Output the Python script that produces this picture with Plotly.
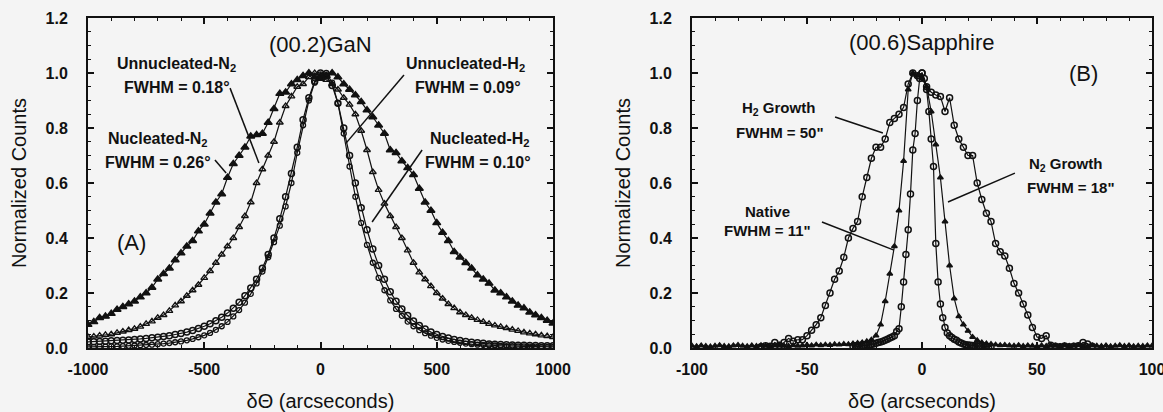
import plotly.graph_objects as go

# ---------------- Panel A: (00.2) GaN rocking curves ----------------
theta_a = list(range(-1000, 1001, 25))

nucleated_n2 = [0.085, 0.095, 0.11, 0.115, 0.125, 0.14, 0.15, 0.16, 0.17, 0.185,
                0.2, 0.22, 0.25, 0.27, 0.29, 0.32, 0.345, 0.37, 0.39, 0.425,
                0.45, 0.49, 0.53, 0.56, 0.62, 0.67, 0.7, 0.73, 0.77, 0.775,
                0.78, 0.82, 0.87, 0.925, 0.93, 0.96, 0.975, 0.99, 1.0, 0.985,
                0.98, 0.99, 1.0, 0.985, 0.96, 0.94, 0.92, 0.895, 0.865, 0.84,
                0.81, 0.78, 0.72, 0.71, 0.68, 0.655, 0.63, 0.58, 0.53, 0.5,
                0.455, 0.42, 0.39, 0.35, 0.33, 0.31, 0.29, 0.265, 0.25, 0.235,
                0.21, 0.2, 0.185, 0.17, 0.155, 0.145, 0.13, 0.12, 0.11, 0.1, 0.09]

unnucleated_n2 = [0.04, 0.042, 0.045, 0.048, 0.05, 0.055, 0.06, 0.065, 0.07, 0.078,
                  0.088, 0.097, 0.11, 0.12, 0.135, 0.155, 0.17, 0.19, 0.21, 0.23,
                  0.255, 0.28, 0.31, 0.34, 0.37, 0.4, 0.44, 0.48, 0.53, 0.6,
                  0.65, 0.7, 0.75, 0.82, 0.88, 0.915, 0.95, 0.96, 0.985, 1.0,
                  0.99, 0.975, 0.96, 0.94, 0.91, 0.885, 0.85, 0.79, 0.72, 0.64,
                  0.575, 0.525, 0.48, 0.44, 0.4, 0.355, 0.31, 0.275, 0.25, 0.225,
                  0.2, 0.18, 0.16, 0.145, 0.13, 0.12, 0.11, 0.102, 0.095, 0.088,
                  0.082, 0.077, 0.072, 0.067, 0.062, 0.057, 0.053, 0.05, 0.046, 0.043, 0.04]

unnucleated_h2 = [0.004, 0.004, 0.005, 0.005, 0.006, 0.006, 0.007, 0.008, 0.009, 0.01,
                  0.011, 0.012, 0.014, 0.016, 0.018, 0.021, 0.024, 0.028, 0.033, 0.039,
                  0.046, 0.055, 0.066, 0.079, 0.095, 0.115, 0.138, 0.165, 0.197, 0.235,
                  0.278, 0.33, 0.385, 0.445, 0.515, 0.6, 0.71, 0.81, 0.9, 0.965,
                  0.995, 1.0, 0.965, 0.89, 0.78, 0.66, 0.55, 0.455, 0.375, 0.31,
                  0.255, 0.21, 0.173, 0.142, 0.117, 0.096, 0.079, 0.065, 0.054, 0.045,
                  0.037, 0.031, 0.026, 0.022, 0.019, 0.016, 0.014, 0.012, 0.011, 0.01,
                  0.009, 0.008, 0.007, 0.007, 0.006, 0.006, 0.005, 0.005, 0.004, 0.004, 0.004]

nucleated_h2 = [0.022, 0.023, 0.024, 0.025, 0.026, 0.027, 0.028, 0.029, 0.031, 0.033,
                0.035, 0.037, 0.039, 0.042, 0.045, 0.049, 0.053, 0.058, 0.064, 0.071,
                0.079, 0.088, 0.099, 0.112, 0.127, 0.145, 0.166, 0.19, 0.218, 0.25,
                0.29, 0.34, 0.4, 0.47, 0.55, 0.635, 0.73, 0.83, 0.91, 0.97,
                1.0, 0.99, 0.955, 0.89, 0.8, 0.7, 0.6, 0.51, 0.43, 0.36,
                0.3, 0.25, 0.205, 0.17, 0.142, 0.118, 0.098, 0.082, 0.069, 0.058,
                0.049, 0.042, 0.036, 0.031, 0.027, 0.024, 0.021, 0.019, 0.017, 0.015,
                0.014, 0.013, 0.012, 0.011, 0.01, 0.01, 0.009, 0.009, 0.008, 0.008, 0.008]

# ---------------- Panel B: (00.6) Sapphire rocking curves ----------------
theta_h2_growth = list(range(-70, 77, 2))
h2_growth = [0.005, 0.008, 0.006, 0.02, 0.01, 0.02, 0.035, 0.025, 0.03, 0.03,
             0.045, 0.065, 0.085, 0.11, 0.155, 0.2, 0.25, 0.28, 0.33, 0.4,
             0.435, 0.46, 0.55, 0.62, 0.69, 0.73, 0.73, 0.76, 0.82, 0.835,
             0.85, 0.875, 0.96, 1.0, 0.99, 1.0, 0.95, 0.93, 0.92, 0.915,
             0.86, 0.91, 0.81, 0.76, 0.73, 0.7, 0.7, 0.6, 0.54, 0.49,
             0.46, 0.38, 0.35, 0.335, 0.29, 0.235, 0.2, 0.16, 0.12, 0.075,
             0.04, 0.035, 0.045, 0.01, 0.006, 0.005, 0.007, 0.005, 0.006, 0.008,
             0.02, 0.015, 0.006]

theta_n2_growth = list(range(-100, 101, 2))
n2_growth = [0.008, 0.006, 0.009, 0.007, 0.005, 0.008, 0.01, 0.007, 0.006, 0.009,
             0.011, 0.008, 0.006, 0.009, 0.007, 0.01, 0.008, 0.006, 0.009, 0.011,
             0.008, 0.007, 0.01, 0.008, 0.009, 0.011, 0.009, 0.012, 0.01, 0.012,
             0.011, 0.013, 0.012, 0.014, 0.013, 0.016, 0.018, 0.02, 0.024, 0.03,
             0.045, 0.085, 0.17, 0.27, 0.37, 0.5, 0.68, 0.94, 1.0, 0.99,
             0.98, 0.95, 0.86, 0.74, 0.62, 0.46, 0.3, 0.18, 0.115, 0.085,
             0.062, 0.04, 0.028, 0.02, 0.016, 0.014, 0.012, 0.01, 0.011, 0.009,
             0.008, 0.01, 0.007, 0.009, 0.008, 0.006, 0.009, 0.007, 0.01, 0.008,
             0.006, 0.009, 0.007, 0.008, 0.01, 0.007, 0.006, 0.009, 0.008, 0.007,
             0.009, 0.006, 0.008, 0.01, 0.007, 0.009, 0.006, 0.008, 0.007, 0.009, 0.008]

theta_native = list(range(-30, 31, 1))
native = [0.006, 0.008, 0.007, 0.009, 0.008, 0.01, 0.011, 0.012, 0.013, 0.015,
          0.017, 0.02, 0.022, 0.025, 0.028, 0.032, 0.036, 0.04, 0.045, 0.06,
          0.07, 0.15, 0.24, 0.34, 0.43, 0.56, 0.72, 0.78, 0.9, 0.98,
          1.0, 0.98, 0.94, 0.86, 0.76, 0.66, 0.38, 0.24, 0.16, 0.11,
          0.075, 0.055, 0.045, 0.038, 0.032, 0.028, 0.022, 0.018, 0.015, 0.012,
          0.011, 0.01, 0.009, 0.008, 0.008, 0.007, 0.007, 0.006, 0.006, 0.005, 0.005]

# tick labels
a_xticks = [-1000, -500, 0, 500, 1000]
a_xticklabels = ["-1000", "-500", "0", "500", "1000"]
b_xticks = [-100, -50, 0, 50, 100]
b_xticklabels = ["-100", "-50", "0", "50", "100"]
yticks = [0.0, 0.2, 0.4, 0.6, 0.8, 1.0, 1.2]
yticklabels = ["0.0", "0.2", "0.4", "0.6", "0.8", "1.0", "1.2"]

# ---------------- figure ----------------
BG = "#f4f4f4"
FONT = "Liberation Sans, Arial, Helvetica, sans-serif"
INK = "#111111"

fig = go.Figure()

def add(x, y, symbol, size, xa, ya, name, lw=1.3):
    fig.add_trace(go.Scatter(
        x=x, y=y, mode="lines+markers", name=name, xaxis=xa, yaxis=ya,
        line=dict(color=INK, width=1.2),
        marker=dict(symbol=symbol, size=size, color=INK, line=dict(color=INK, width=lw)),
        showlegend=False, cliponaxis=True))

add(theta_a, nucleated_n2, "triangle-up", 7, "x", "y", "Nucleated-N2")
add(theta_a, unnucleated_n2, "triangle-up-open", 6, "x", "y", "Unnucleated-N2")
add(theta_a, nucleated_h2, "circle-open", 6, "x", "y", "Nucleated-H2", 1.5)
add(theta_a, unnucleated_h2, "circle-open", 5, "x", "y", "Unnucleated-H2", 1.3)

add(theta_n2_growth, n2_growth, "triangle-up", 5, "x2", "y2", "N2 Growth")
add(theta_h2_growth, h2_growth, "circle-open", 6, "x2", "y2", "H2 Growth", 1.5)
add(theta_native, native, "circle-open", 6, "x2", "y2", "Native", 1.5)

TICKFONT = dict(family=FONT, size=16, color=INK, weight="bold")
TITLEFONT = dict(family=FONT, size=20, color=INK)

axis_common = dict(
    showline=True, linecolor=INK, linewidth=2, mirror="ticks",
    ticks="inside", ticklen=6, tickwidth=1.5, tickcolor=INK,
    showgrid=False, zeroline=False, automargin=False,
    tickfont=TICKFONT,
    title_font=TITLEFONT,
)

fig.update_layout(
    width=1163, height=412,
    margin=dict(l=88, r=11, t=18, b=64),
    paper_bgcolor=BG, plot_bgcolor=BG,
    font=dict(family=FONT, color=INK),
    xaxis=dict(domain=[0, 0.43703], range=[-1000, 1000], tickvals=a_xticks, ticktext=a_xticklabels,
               minor=dict(dtick=100, ticks="inside", ticklen=3, tickcolor=INK, tickwidth=1.2),
               title=dict(text="δΘ (arcseconds)", standoff=18), ticklabelstandoff=6,
               ticklabeloverflow="allow", **axis_common),
    yaxis=dict(domain=[0, 1], range=[0, 1.2], tickvals=yticks, ticktext=yticklabels,
               minor=dict(dtick=0.05, ticks="inside", ticklen=3, tickcolor=INK, tickwidth=1.2),
               title=dict(text="Normalized Counts", standoff=14), ticklabelstandoff=15, **axis_common),
    xaxis2=dict(domain=[0.56767, 1], range=[-100, 100], tickvals=b_xticks, ticktext=b_xticklabels,
                anchor="y2",
                minor=dict(dtick=10, ticks="inside", ticklen=3, tickcolor=INK, tickwidth=1.2),
                title=dict(text="δΘ (arcseconds)", standoff=18), ticklabelstandoff=6,
                ticklabeloverflow="allow", **axis_common),
    yaxis2=dict(domain=[0, 1], range=[0, 1.2], tickvals=yticks, ticktext=yticklabels, anchor="x2",
                minor=dict(dtick=0.05, ticks="inside", ticklen=3, tickcolor=INK, tickwidth=1.2),
                title=dict(text="Normalized Counts", standoff=14), ticklabelstandoff=15, **axis_common),
)

def note(text, x, y, xref, yref, size=16, bold=True):
    fig.add_annotation(text=text, x=x, y=y, xref=xref, yref=yref, showarrow=False,
                       font=dict(family=FONT, size=size, color=INK, weight="bold" if bold else "normal"),
                       xanchor="center", yanchor="middle")

# Panel A labels
note("(00.2)GaN", 0, 1.105, "x", "y", 22, False)
note("Unnucleated-N<sub>2</sub>", -621, 1.03, "x", "y")
note("FWHM = 0.18°", -617, 0.949, "x", "y")
note("Nucleated-N<sub>2</sub>", -700, 0.76, "x", "y")
note("FWHM = 0.26°", -700, 0.676, "x", "y")
note("Unnucleated-H<sub>2</sub>", 625, 1.03, "x", "y")
note("FWHM = 0.09°", 634, 0.949, "x", "y")
note("Nucleated-H<sub>2</sub>", 686, 0.76, "x", "y")
note("FWHM = 0.10°", 677, 0.676, "x", "y")
note("(A)", -815, 0.385, "x", "y", 22, False)

# Panel B labels
note("(00.6)Sapphire", 0, 1.11, "x2", "y2", 22, False)
note("(B)", 70, 1.0, "x2", "y2", 22, False)
note("H<sub>2</sub> Growth", -62.6, 0.87, "x2", "y2", 15)
note("FWHM = 50\"", -61.7, 0.785, "x2", "y2", 15)
note("Native", -67, 0.495, "x2", "y2", 15)
note("FWHM = 11\"", -67, 0.429, "x2", "y2", 15)
note("N<sub>2</sub> Growth", 62.6, 0.667, "x2", "y2", 15)
note("FWHM = 18\"", 64.8, 0.582, "x2", "y2", 15)

# Pointer lines
pointers = [
    ("x", "y", -389, 0.945, -265, 0.673),
    ("x", "y", -454, 0.684, -406, 0.636),
    ("x", "y", 359, 0.993, 110, 0.745),
    ("x", "y", 437, 0.72, 222, 0.458),
    ("x2", "y2", -37.8, 0.84, -17, 0.782),
    ("x2", "y2", -43.5, 0.458, -12.2, 0.356),
    ("x2", "y2", 40.4, 0.636, 11.3, 0.531),
]
for xr, yr, x0, y0, x1, y1 in pointers:
    fig.add_shape(type="line", xref=xr, yref=yr, x0=x0, y0=y0, x1=x1, y1=y1,
                  line=dict(color=INK, width=1.5))

fig.write_html("out.html", config={"displayModeBar": False},
               post_script="document.body.style.margin='0';document.body.style.background='#f4f4f4';")
